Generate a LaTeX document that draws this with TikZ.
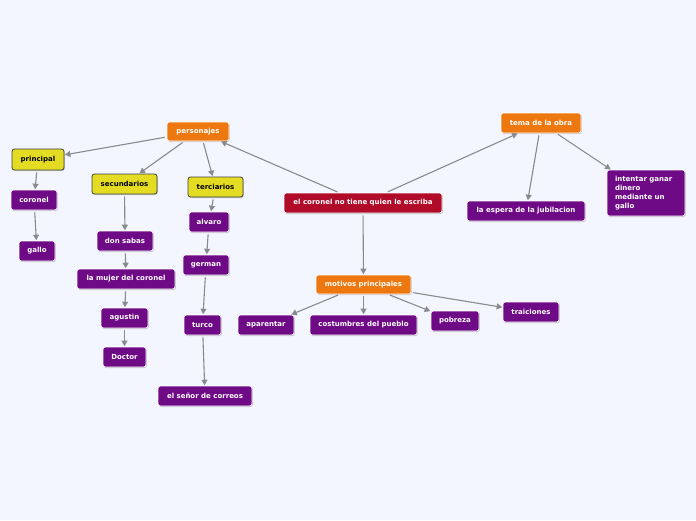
\documentclass[tikz,border=0pt]{standalone}
\usepackage{fontspec}
\setmainfont{DejaVu Sans}
\usetikzlibrary{arrows.meta,shadows}
\definecolor{bg}{RGB}{243,246,255}
\definecolor{purp}{RGB}{110,10,134}
\definecolor{oran}{RGB}{238,120,16}
\definecolor{redc}{RGB}{176,12,42}
\definecolor{yel}{RGB}{228,220,34}
\definecolor{edgec}{RGB}{138,138,138}
\tikzset{
  box/.style={rounded corners=2.5pt, inner sep=0pt, align=center,
    font=\fontsize{7}{9}\selectfont\bfseries, text=white,
    drop shadow={shadow xshift=0.8pt, shadow yshift=-1pt, fill=black!40, opacity=0.5}},
  pbox/.style={box, fill=purp, draw=white, line width=0.6pt},
  obox/.style={box, fill=oran, draw=white, line width=0.6pt},
  rbox/.style={box, fill=redc, draw=white, line width=0.6pt},
  ybox/.style={box, fill=yel, draw=black!75, line width=0.8pt, text=black},
  conn/.style={draw=edgec, line width=1.1pt, -{Triangle[length=5.5pt,width=6pt]}, shorten <=2pt, shorten >=0.5pt},
}
\begin{document}
\begin{tikzpicture}[x=1pt,y=-1pt]
\fill[bg] (0,0) rectangle (696,520);
\useasboundingbox (0,0) rectangle (696,520);
% nodes
\node[obox, minimum width=62, minimum height=19] (pers) at (198,131.5) {personajes};
\node[ybox, minimum width=52, minimum height=21] (prin) at (38,159.5) {principal};
\node[ybox, minimum width=65, minimum height=20] (secu) at (124.5,184) {secundarios};
\node[ybox, minimum width=55, minimum height=20] (terc) at (215.5,187) {terciarios};
\node[pbox, minimum width=46, minimum height=20] (coro) at (34,200) {coronel};
\node[pbox, minimum width=36, minimum height=20] (gallo) at (37,251) {gallo};
\node[pbox, minimum width=56, minimum height=20] (sabas) at (125,241) {don sabas};
\node[pbox, minimum width=98, minimum height=20] (mujer) at (126,279) {la mujer del coronel};
\node[pbox, minimum width=47, minimum height=20] (agus) at (124.5,318) {agustin};
\node[pbox, minimum width=43, minimum height=20] (doct) at (124.5,357) {Doctor};
\node[pbox, minimum width=40, minimum height=20] (alva) at (209,222) {alvaro};
\node[pbox, minimum width=46, minimum height=20] (germ) at (206,265) {german};
\node[pbox, minimum width=37, minimum height=20] (turc) at (202.5,325) {turco};
\node[pbox, minimum width=94, minimum height=20] (seno) at (205,396) {el señor de correos};
\node[rbox, minimum width=158, minimum height=20] (main) at (363,203) {el coronel no tiene quien le escriba};
\node[obox, minimum width=80, minimum height=20] (tema) at (541,123) {tema de la obra};
\node[pbox, minimum width=118, minimum height=20] (espe) at (526,211) {la espera de la jubilacion};
\node[pbox, minimum width=78, minimum height=46, align=left, text width=62] (inte) at (646,193) {intentar ganar\\dinero\\mediante un\\gallo};
\node[obox, minimum width=95, minimum height=19] (moti) at (363.5,284.5) {motivos principales};
\node[pbox, minimum width=56, minimum height=20] (apar) at (266,325) {aparentar};
\node[pbox, minimum width=107, minimum height=20] (cost) at (363.5,325) {costumbres del pueblo};
\node[pbox, minimum width=48, minimum height=20] (pobr) at (455,321) {pobreza};
\node[pbox, minimum width=56, minimum height=20] (trai) at (531,312) {traiciones};
% connectors
\draw[conn] (pers) -- (prin);
\draw[conn] (pers) -- (secu);
\draw[conn] (pers.south) ++(5,0) coordinate (ps) (ps) -- (terc);
\draw[conn] (main) -- (pers);
\draw[conn] (main) -- (tema);
\draw[conn] (tema) -- (espe);
\draw[conn] (tema) -- (inte);
\draw[conn] (main) -- (moti);
\draw[conn] (moti) -- (apar);
\draw[conn] (moti) -- (cost);
\draw[conn] (moti) -- (pobr);
\draw[conn] (moti) -- (trai);
\draw[conn] (prin) -- (coro);
\draw[conn] (coro) -- (gallo);
\draw[conn] (secu) -- (sabas);
\draw[conn] (sabas) -- (mujer);
\draw[conn] (mujer) -- (agus);
\draw[conn] (agus) -- (doct);
\draw[conn] (terc) -- (alva);
\draw[conn] (alva) -- (germ);
\draw[conn] (germ) -- (turc);
\draw[conn] (turc) -- (seno);
\end{tikzpicture}
\end{document}
